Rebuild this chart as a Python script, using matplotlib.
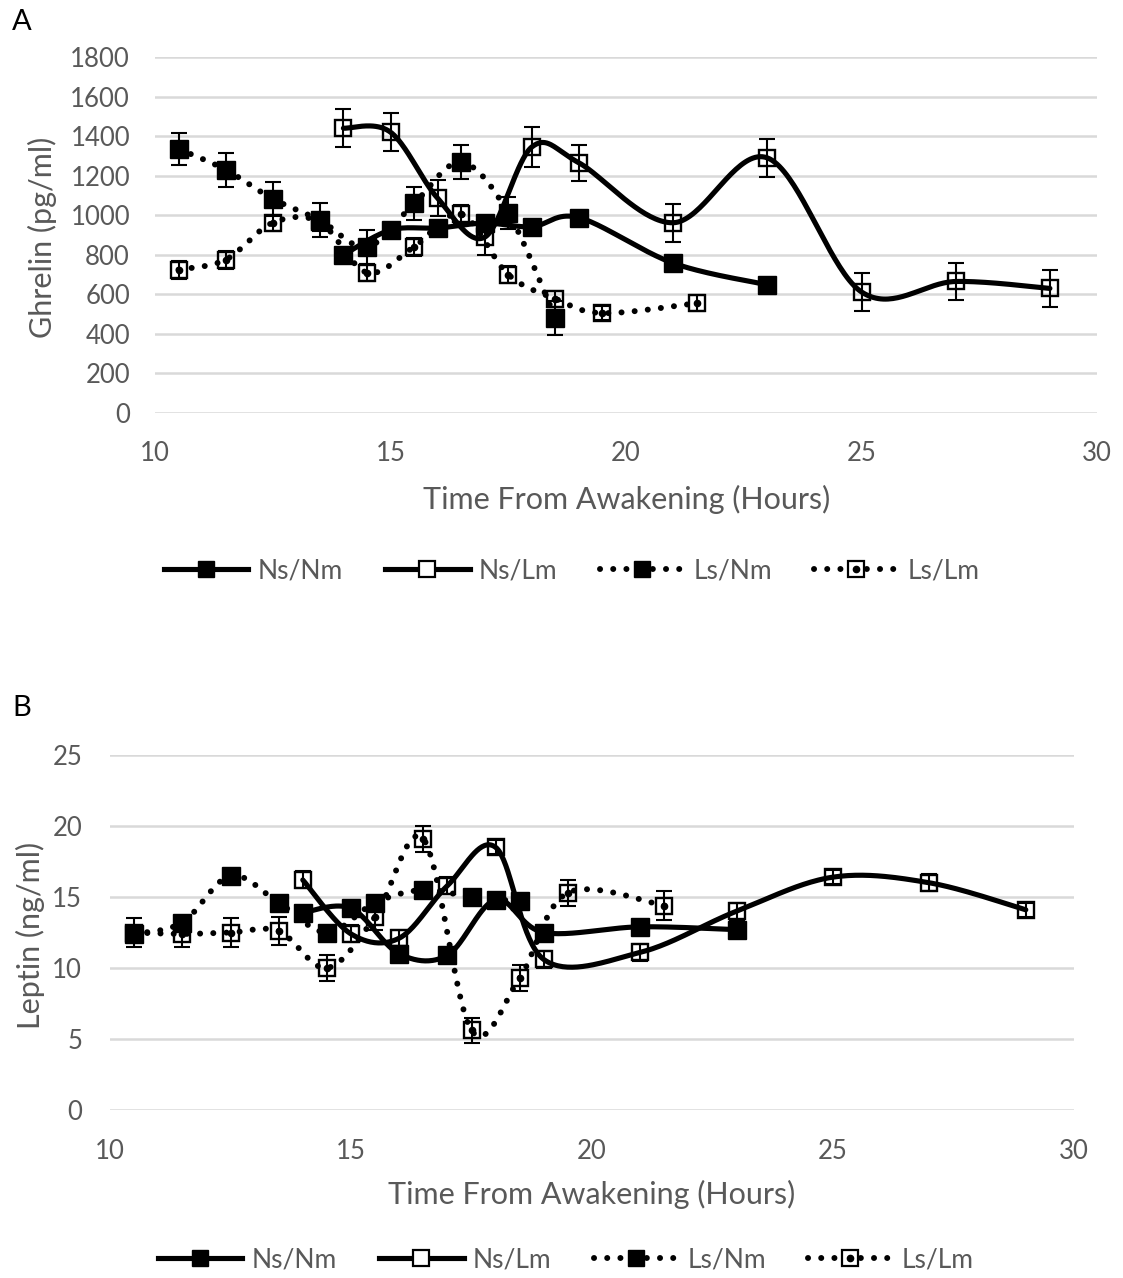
import numpy as np
import matplotlib
matplotlib.use("Agg")
import matplotlib.pyplot as plt
from matplotlib.lines import Line2D
from matplotlib.legend_handler import HandlerTuple

plt.rcParams['font.family'] = ['Lato', 'DejaVu Sans']

# ---------------- data: Panel A (Ghrelin, pg/ml) ----------------
a_nsnm_x = [14, 15, 16, 17, 18, 19, 21, 23]
a_nsnm_y = [800, 925, 935, 960, 942, 988, 758, 648]
a_nsnm_e = [25, 25, 25, 25, 25, 25, 25, 25]

a_nslm_x = [14, 15, 16, 17, 18, 19, 21, 23, 25, 27, 29]
a_nslm_y = [1440, 1420, 1086, 889, 1345, 1265, 962, 1290, 612, 665, 630]
a_nslm_e = [95, 95, 90, 90, 100, 90, 95, 95, 95, 95, 95]

a_lsnm_x = [10.5, 11.5, 12.5, 13.5, 14.5, 15.5, 16.5, 17.5, 18.5]
a_lsnm_y = [1335, 1230, 1083, 975, 840, 1060, 1268, 1012, 480]
a_lsnm_e = [80, 85, 85, 85, 85, 85, 85, 80, 85]

a_lslm_x = [10.5, 11.5, 12.5, 13.5, 14.5, 15.5, 16.5, 17.5, 18.5, 19.5, 21.5]
a_lslm_y = [725, 775, 962, 965, 710, 840, 1005, 700, 578, 505, 555]
a_lslm_e = [45, 45, 40, 45, 45, 45, 45, 45, 40, 35, 40]

# ---------------- data: Panel B (Leptin, ng/ml) ----------------
b_nsnm_x = [14, 15, 16, 17, 18, 19, 21, 23]
b_nsnm_y = [13.9, 14.2, 11.0, 10.9, 14.8, 12.5, 12.9, 12.7]
b_nsnm_e = [0.4, 0.4, 0.4, 0.4, 0.4, 0.4, 0.4, 0.4]

b_nslm_x = [14, 15, 16, 17, 18, 19, 21, 23, 25, 27, 29]
b_nslm_y = [16.2, 12.4, 12.1, 15.8, 18.5, 10.6, 11.1, 14.0, 16.4, 16.0, 14.1]
b_nslm_e = [0.6, 0.6, 0.6, 0.6, 0.5, 0.6, 0.6, 0.6, 0.5, 0.6, 0.5]

b_lsnm_x = [10.5, 11.5, 12.5, 13.5, 14.5, 15.5, 16.5, 17.5, 18.5]
b_lsnm_y = [12.4, 13.2, 16.5, 14.6, 12.5, 14.6, 15.5, 15.0, 14.7]
b_lsnm_e = [0.4, 0.4, 0.4, 0.4, 0.4, 0.4, 0.4, 0.4, 0.4]

b_lslm_x = [10.5, 11.5, 12.5, 13.5, 14.5, 15.5, 16.5, 17.5, 18.5, 19.5, 21.5]
b_lslm_y = [12.5, 12.4, 12.5, 12.6, 10.0, 13.6, 19.1, 5.6, 9.3, 15.3, 14.4]
b_lslm_e = [1.0, 0.9, 1.0, 1.0, 0.9, 0.9, 0.9, 0.9, 0.9, 0.9, 1.0]

series_names = ["Ns/Nm", "Ns/Lm", "Ls/Nm", "Ls/Lm"]

GRAY = "#595959"
GRID = "#d9d9d9"
LW = 3.7
DLW = 4.3
DOT = (0, (0.01, 2.2))


def smooth(xs, ys, n=40):
    """Excel-like smoothed line (Catmull-Rom / cubic Bezier)."""
    P = np.column_stack([xs, ys]).astype(float)
    m = len(P)
    out = []
    t = np.linspace(0, 1, n)
    for i in range(m - 1):
        p0 = P[i - 1] if i > 0 else P[i]
        p1 = P[i]
        p2 = P[i + 1]
        p3 = P[i + 2] if i + 2 < m else P[i + 1]
        c1 = p1 + (p2 - p0) / 6.0
        c2 = p2 - (p3 - p1) / 6.0
        seg = ((1 - t) ** 3)[:, None] * p1 + (3 * (1 - t) ** 2 * t)[:, None] * c1 \
            + (3 * (1 - t) * t ** 2)[:, None] * c2 + (t ** 3)[:, None] * p2
        out.append(seg if i == 0 else seg[1:])
    S = np.vstack(out)
    return S[:, 0], S[:, 1]


def draw_series(ax, x, y, e, dotted, filled, z):
    sx, sy = smooth(x, y)
    if dotted:
        ax.plot(sx, sy, color='black', lw=DLW, linestyle=DOT,
                dash_capstyle='round', zorder=z)
    else:
        ax.plot(sx, sy, color='black', lw=LW, solid_capstyle='round', zorder=z)
    ax.errorbar(x, y, yerr=e, fmt='none', ecolor='black', elinewidth=1.5,
                capsize=5.5, capthick=1.5, zorder=z + 0.1)
    if filled:
        ax.plot(x, y, linestyle='none', marker='s', markersize=12.5,
                mfc='black', mec='black', zorder=z + 0.2)
    else:
        ax.plot(x, y, linestyle='none', marker='s', markersize=12,
                mfc='none', mec='black', mew=1.7, zorder=z + 0.2)
        if dotted:
            ax.plot(x, y, linestyle='none', marker='o', markersize=4.5,
                    mfc='black', mec='black', zorder=z + 0.3)


def style_axis(ax, xlim, ylim, yticks):
    ax.set_xlim(*xlim)
    ax.set_ylim(*ylim)
    ax.set_xticks([10, 15, 20, 25, 30])
    ax.set_yticks(yticks)
    for s in ax.spines.values():
        s.set_visible(False)
    ax.grid(axis='y', color=GRID, lw=1.8, zorder=0)
    ax.set_axisbelow(True)
    ax.tick_params(axis='both', length=0, labelsize=18.5, labelcolor=GRAY)
    ax.set_facecolor('none')


fig = plt.figure(figsize=(11.23, 12.78), dpi=100)
W, H = 1123, 1278

def axes_px(left, right, top, bottom):
    return fig.add_axes([left / W, 1 - bottom / H, (right - left) / W, (bottom - top) / H])

axA = axes_px(155, 1097, 57, 413)
axB = axes_px(110, 1074, 755, 1110)

draw_series(axA, a_nsnm_x, a_nsnm_y, a_nsnm_e, False, True, 3)
draw_series(axA, a_nslm_x, a_nslm_y, a_nslm_e, False, False, 4)
draw_series(axA, a_lsnm_x, a_lsnm_y, a_lsnm_e, True, True, 5)
draw_series(axA, a_lslm_x, a_lslm_y, a_lslm_e, True, False, 6)
style_axis(axA, (10, 30), (0, 1800), range(0, 1801, 200))
axA.tick_params(axis='y', pad=18)
axA.tick_params(axis='x', pad=20)

draw_series(axB, b_nsnm_x, b_nsnm_y, b_nsnm_e, False, True, 3)
draw_series(axB, b_nslm_x, b_nslm_y, b_nslm_e, False, False, 4)
draw_series(axB, b_lsnm_x, b_lsnm_y, b_lsnm_e, True, True, 5)
draw_series(axB, b_lslm_x, b_lslm_y, b_lslm_e, True, False, 6)
style_axis(axB, (10, 30), (0, 25), range(0, 26, 5))
axB.tick_params(axis='y', pad=20)
axB.tick_params(axis='x', pad=21)

# axis labels
fig.text(42 / W, 1 - 237 / H, "Ghrelin (pg/ml)", rotation=90, ha='center', va='center',
         fontsize=22, color=GRAY)
fig.text(627 / W, 1 - 499 / H, "Time From Awakening (Hours)", ha='center', va='center',
         fontsize=22, color=GRAY)
fig.text(30 / W, 1 - 935 / H, "Leptin (ng/ml)", rotation=90, ha='center', va='center',
         fontsize=22, color=GRAY)
fig.text(592 / W, 1 - 1194 / H, "Time From Awakening (Hours)", ha='center', va='center',
         fontsize=22, color=GRAY)

# panel letters
fig.text(12 / W, 1 - 22 / H, "A", ha='left', va='center', fontsize=21, color='black')
fig.text(12 / W, 1 - 708 / H, "B", ha='left', va='center', fontsize=21, color='black')


def legend_handles():
    h1 = Line2D([], [], color='black', lw=LW, marker='s', markersize=12, mfc='black', mec='black')
    h2 = Line2D([], [], color='black', lw=LW, marker='s', markersize=11, mfc='white', mec='black', mew=1.6)
    h3 = Line2D([], [], color='black', lw=DLW, linestyle=DOT, dash_capstyle='round',
                marker='s', markersize=12, mfc='black', mec='black')
    h4a = Line2D([], [], color='black', lw=DLW, linestyle=DOT, dash_capstyle='round',
                 marker='s', markersize=11, mfc='white', mec='black', mew=1.6)
    h4b = Line2D([], [], linestyle='none', marker='o', markersize=4.5, mfc='black', mec='black')
    return [h1, h2, h3, (h4a, h4b)]


for ycen, xcen in [(571, 572), (1260, 566)]:
    fig.legend(legend_handles(), series_names, loc='center', ncol=4,
               bbox_to_anchor=(xcen / W, 1 - ycen / H), frameon=False,
               fontsize=19, labelcolor=GRAY, handlelength=3.2, handletextpad=0.35,
               columnspacing=1.6, handler_map={tuple: HandlerTuple(ndivide=1, pad=0)})

fig.savefig("out.png", dpi=100, facecolor='white')
